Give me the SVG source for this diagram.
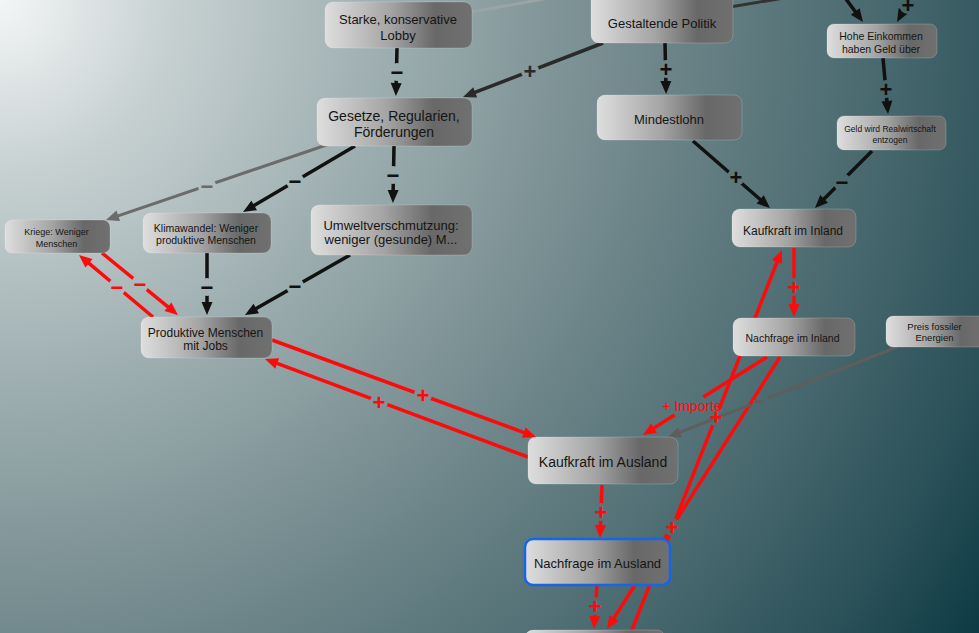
<svg xmlns="http://www.w3.org/2000/svg" width="979" height="633" viewBox="0 0 979 633">
<defs>
<radialGradient id="bg" gradientUnits="userSpaceOnUse" cx="0" cy="0" r="1165">
<stop offset="0" stop-color="#f4f6f6"/>
<stop offset="0.15" stop-color="#c6d0d1"/>
<stop offset="0.35" stop-color="#9aabad"/>
<stop offset="0.55" stop-color="#71888c"/>
<stop offset="0.75" stop-color="#4a6a70"/>
<stop offset="0.9" stop-color="#2a5058"/>
<stop offset="1" stop-color="#0d3a44"/>
</radialGradient>
<linearGradient id="ng" x1="0" y1="0" x2="1" y2="0">
<stop offset="0" stop-color="#dedede"/>
<stop offset="0.45" stop-color="#a4a4a4"/>
<stop offset="0.75" stop-color="#686868"/>
<stop offset="1" stop-color="#707070"/>
</linearGradient>
<marker id="ak" markerUnits="userSpaceOnUse" markerWidth="13" markerHeight="11" refX="8" refY="5.5" orient="auto" overflow="visible"><path d="M0,0 L13,5.5 L0,11 z" fill="#111"/></marker>
<marker id="ar" markerUnits="userSpaceOnUse" markerWidth="13" markerHeight="11" refX="8" refY="5.5" orient="auto" overflow="visible"><path d="M0,0 L13,5.5 L0,11 z" fill="#ff0a0a"/></marker>
<marker id="ag" markerUnits="userSpaceOnUse" markerWidth="13" markerHeight="11" refX="8" refY="5.5" orient="auto" overflow="visible"><path d="M0,0 L13,5.5 L0,11 z" fill="#6b6b6b"/></marker>
<marker id="ag2" markerUnits="userSpaceOnUse" markerWidth="13" markerHeight="11" refX="8" refY="5.5" orient="auto" overflow="visible"><path d="M0,0 L13,5.5 L0,11 z" fill="#5e5e5e"/></marker>
<marker id="ad" markerUnits="userSpaceOnUse" markerWidth="13" markerHeight="11" refX="8" refY="5.5" orient="auto" overflow="visible"><path d="M0,0 L13,5.5 L0,11 z" fill="#2a2a2a"/></marker>
<mask id="m" maskUnits="userSpaceOnUse" x="0" y="-20" width="979" height="680">
<rect x="0" y="-20" width="979" height="680" fill="#fff"/>
<g fill="#000">
<circle cx="908" cy="5" r="9"/><circle cx="397" cy="72" r="9"/><circle cx="530" cy="71" r="9"/>
<circle cx="666" cy="69" r="9"/><circle cx="886" cy="89" r="9"/><circle cx="736" cy="177" r="9"/>
<circle cx="842" cy="182" r="9"/><circle cx="207" cy="186" r="9"/><circle cx="295" cy="181" r="9"/>
<circle cx="393" cy="175" r="9"/><circle cx="207" cy="287" r="9"/><circle cx="295" cy="286" r="9"/>
<circle cx="140" cy="284" r="9"/><circle cx="117" cy="287" r="9"/><circle cx="423" cy="395" r="9"/>
<circle cx="379" cy="402" r="9"/><circle cx="794" cy="287" r="9"/><circle cx="716" cy="417" r="9"/>
<circle cx="672" cy="527" r="9"/><circle cx="689" cy="406" r="17"/><circle cx="601" cy="512" r="9"/>
<circle cx="595" cy="606" r="9"/>
</g>
</mask>
<mask id="mg" maskUnits="userSpaceOnUse" x="0" y="-20" width="979" height="680">
<rect x="0" y="-20" width="979" height="680" fill="#fff"/>
<circle cx="759" cy="401" r="9" fill="#000"/>
</mask>
</defs>
<style>
.n rect{fill:url(#ng);stroke:#ffffff;stroke-opacity:0.18;stroke-width:1}
.n text{font-family:"Liberation Sans",Arial,sans-serif;fill:#151515;text-anchor:middle}
.e{fill:none;stroke-linecap:butt}
.k{stroke:#111;stroke-width:3.5;marker-end:url(#ak)}
.r{stroke:#ff0a0a;stroke-width:3.5;marker-end:url(#ar)}
.lb{font-family:"Liberation Sans",Arial,sans-serif;font-size:22px;font-weight:bold;text-anchor:middle}
</style>
<rect x="0" y="0" width="979" height="633" fill="url(#bg)"/>

<g id="connectors">
<g mask="url(#m)">
<path class="e" d="M450,16 L560,-4" stroke="#9aa4a6" stroke-width="3"/>
<path class="e" d="M700,12 L790,-3" stroke="#333" stroke-width="3"/>
<path class="e k" d="M843,-5 L860,18"/>
<path class="e k" d="M914,-8 L899.5,17.6"/>
<path class="e k" d="M397,48 L396,91" stroke-width="4.5"/>
<path class="e" d="M603,43 L467.7,95.2" stroke="#2a2a2a" stroke-width="3.5" marker-end="url(#ad)"/>
<path class="e k" d="M665,43 L666,89" stroke-width="4"/>
<path class="e k" d="M883,58 L887.6,109"/>
<path class="e k" d="M693,141 L766.2,204.7"/>
<path class="e k" d="M872,151 L818.5,204.5"/>
<path class="e" d="M394,122 L110.7,218.4" stroke="#6b6b6b" stroke-width="3" marker-end="url(#ag)"/>
<path class="e k" d="M355,146 L247.3,209.5"/>
<path class="e k" d="M394,146 L393,198" stroke-width="4"/>
<path class="e k" d="M207,253 L207,310" stroke-width="4"/>
<path class="e k" d="M350,255 L249.3,312.5"/>
<path class="e r" d="M102,253 L174.1,311.8"/>
<path class="e r" d="M153,317 L82.8,258.2"/>
<path class="e r" d="M272,340 L531.3,435.3"/>
<path class="e r" d="M528,457 L269.7,360.7"/>
<path class="e r" d="M794,248 L794,312"/>
<path class="e r" d="M628,640 L780,254.6"/>
<path class="e r" d="M780,357 L609.7,624.8"/>
<path class="e r" d="M767,357 L647.2,432.3"/>
<path class="e r" d="M602,485 L600.2,533"/>
<path class="e r" d="M597,585 L594.3,624"/>
</g>
<path class="e" d="M897,347 L672.7,435.2" stroke="#5e5e5e" stroke-width="3" marker-end="url(#ag2)" mask="url(#mg)"/>
<g class="lb">
<text x="908" y="12.5" fill="#111">+</text>
<text x="397" y="79.5" fill="#111">−</text>
<text x="530" y="78.5" fill="#2a2a2a">+</text>
<text x="666" y="76.5" fill="#111">+</text>
<text x="886" y="96.5" fill="#111">+</text>
<text x="736" y="184.5" fill="#111">+</text>
<text x="842" y="189.5" fill="#111">−</text>
<text x="207" y="193.5" fill="#6b6b6b">−</text>
<text x="295" y="188.5" fill="#111">−</text>
<text x="393" y="182.5" fill="#111">−</text>
<text x="207" y="294.5" fill="#111">−</text>
<text x="295" y="293.5" fill="#111">−</text>
<text x="140" y="291.5" fill="#ff0a0a">−</text>
<text x="117" y="294.5" fill="#ff0a0a">−</text>
<text x="423" y="402.5" fill="#ff0a0a">+</text>
<text x="379" y="409.5" fill="#ff0a0a">+</text>
<text x="794" y="294.5" fill="#ff0a0a">+</text>
<text x="716" y="424.5" fill="#ff0a0a">+</text>
<text x="672" y="534.5" fill="#ff0a0a">+</text>
<text x="601" y="519.5" fill="#ff0a0a">+</text>
<text x="595" y="613.5" fill="#ff0a0a">+</text>
<text x="759" y="408.5" fill="#5e5e5e">−</text>
</g>
<text x="692" y="411" font-family="Liberation Sans, Arial, sans-serif" font-size="14" fill="#ff0a0a" text-anchor="middle">+ Importe</text>
</g>

<g id="n-lobby" class="n"><rect x="325" y="2" width="147" height="46" rx="8"/><text x="398" y="23.5" font-size="13">Starke, konservative</text><text x="398" y="39.5" font-size="13">Lobby</text></g>
<g id="n-politik" class="n"><rect x="591" y="-8" width="142" height="51" rx="8"/><text x="662" y="27.5" font-size="13">Gestaltende Politik</text></g>
<g id="n-hohe" class="n"><rect x="827" y="24" width="110" height="34" rx="7"/><text x="881" y="40" font-size="10.5">Hohe Einkommen</text><text x="881" y="52.5" font-size="10.5">haben Geld über</text></g>
<g id="n-gesetze" class="n"><rect x="317" y="98" width="155" height="48" rx="8"/><text x="394" y="121" font-size="14">Gesetze, Regularien,</text><text x="394" y="137" font-size="14">Förderungen</text></g>
<g id="n-mindestlohn" class="n"><rect x="597" y="95" width="145" height="45" rx="8"/><text x="669" y="124" font-size="13">Mindestlohn</text></g>
<g id="n-geld" class="n"><rect x="837" y="116" width="109" height="34" rx="7"/><text x="890" y="131.5" font-size="8.5">Geld wird Realwirtschaft</text><text x="890" y="142.5" font-size="8.5">entzogen</text></g>
<g id="n-kriege" class="n"><rect x="5" y="220" width="105" height="33" rx="7"/><text x="56.5" y="235" font-size="9">Kriege: Weniger</text><text x="56.5" y="247" font-size="9">Menschen</text></g>
<g id="n-klima" class="n"><rect x="143" y="213" width="128" height="40" rx="8"/><text x="206" y="232" font-size="10.5">Klimawandel: Weniger</text><text x="206" y="244" font-size="10.5">produktive Menschen</text></g>
<g id="n-umwelt" class="n"><rect x="311" y="205" width="161" height="50" rx="8"/><text x="391" y="230" font-size="13">Umweltverschmutzung:</text><text x="391" y="244" font-size="13">weniger (gesunde) M...</text></g>
<g id="n-produktive" class="n"><rect x="141" y="317" width="131" height="41" rx="8"/><text x="205.5" y="336.5" font-size="12">Produktive Menschen</text><text x="205.5" y="350" font-size="12">mit Jobs</text></g>
<g id="n-kaufkraft-inland" class="n"><rect x="732" y="209" width="124" height="38" rx="8"/><text x="793" y="234.5" font-size="12">Kaufkraft im Inland</text></g>
<g id="n-nachfrage-inland" class="n"><rect x="733" y="318" width="122" height="38" rx="8"/><text x="792.5" y="341.5" font-size="10.5">Nachfrage im Inland</text></g>
<g id="n-preis" class="n"><rect x="886" y="316" width="100" height="31" rx="7"/><text x="934.5" y="330" font-size="9.5">Preis fossiler</text><text x="934.5" y="341" font-size="9.5">Energien</text></g>
<g id="n-kaufkraft-ausland" class="n"><rect x="528" y="437" width="150" height="47" rx="8"/><text x="603" y="466.5" font-size="14">Kaufkraft im Ausland</text></g>
<g id="n-nachfrage-ausland" class="n"><rect x="525" y="539" width="145" height="46" rx="8" style="stroke:#1565e8;stroke-width:2.5;stroke-opacity:1"/><text x="597.5" y="568" font-size="13">Nachfrage im Ausland</text></g>
<g id="n-unten" class="n"><rect x="525" y="630" width="140" height="46" rx="8"/></g>
</svg>
